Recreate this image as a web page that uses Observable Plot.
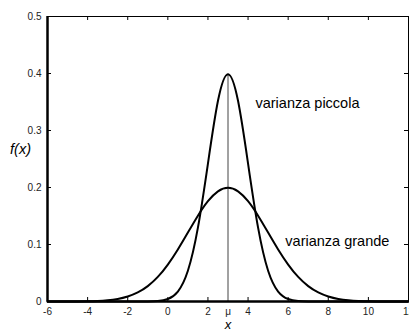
<!DOCTYPE html>
<html>
<head>
<meta charset="utf-8">
<script src="https://cdn.jsdelivr.net/npm/d3@7"></script>
<script src="https://cdn.jsdelivr.net/npm/@observablehq/plot@0.6"></script>
<style>
  html, body { margin: 0; padding: 0; background: #fff; }
  svg { display: block; }
</style>
</head>
<body>
<div id="chart"></div>
<script>
const xs = [-6,-5.5,-5,-4.5,-4,-3.5,-3,-2.5,-2,-1.5,-1,-0.5,0,0.5,1,1.5,2,2.5,3,3.5,4,4.5,5,5.5,6,6.5,7,7.5,8,8.5,9,9.5,10,10.5,11,11.5,12];
const piccola = [0,0,0,0,0,0,0,0,0,0,0.0001,0.0009,0.0044,0.0175,0.0540,0.1295,0.2420,0.3521,0.3989,0.3521,0.2420,0.1295,0.0540,0.0175,0.0044,0.0009,0.0001,0,0,0,0,0,0,0,0,0,0];
const grande = [0,0,0.0001,0.0002,0.0004,0.0010,0.0022,0.0045,0.0088,0.0159,0.0270,0.0431,0.0648,0.0913,0.1210,0.1506,0.1760,0.1933,0.1995,0.1933,0.1760,0.1506,0.1210,0.0913,0.0648,0.0431,0.0270,0.0159,0.0088,0.0045,0.0022,0.0010,0.0004,0.0002,0.0001,0,0];
const xTicks = [-6,-4,-2,0,2,3,4,6,8,10,12];
const xTickLabels = ["-6","-4","-2","0","2","μ","4","6","8","10","12"];
const yTicks = [0,0.1,0.2,0.3,0.4,0.5];
const yTickLabels = ["0","0.1","0.2","0.3","0.4","0.5"];
const mu = 3;
const peak = 0.3989;
const curveLabels = ["varianza piccola","varianza grande"];
const curveLabelX = [4.37, 5.86];
const curveLabelY = [0.347, 0.105];

const narrowData = xs.map((x,i) => ({x, y: piccola[i]}));
const wideData = xs.map((x,i) => ({x, y: grande[i]}));
const labelData = curveLabels.map((t,i) => ({t, x: curveLabelX[i], y: curveLabelY[i]}));
const xMajor = xTicks.filter(d => d !== mu);

const W = 409, H = 332, mL = 47, mR = 1, mT = 16, mB = 31;
const fw = W - mL - mR, fh = H - mT - mB;

const chart = Plot.plot({
  width: W, height: H,
  marginLeft: mL, marginRight: mR, marginTop: mT, marginBottom: mB,
  style: {fontFamily: "'Liberation Sans', Arial, sans-serif", background: "#fff"},
  x: {domain: [-6, 12]},
  y: {domain: [0, 0.5]},
  marks: [
    Plot.frame({stroke: "#000", strokeWidth: 1}),
    Plot.axisX(xTicks, {tickSize: 0, tickPadding: 6, fontSize: 10, fill: "#222",
      tickFormat: d => xTickLabels[xTicks.indexOf(d)], label: null}),
    Plot.axisY(yTicks, {tickSize: 0, tickPadding: 6, fontSize: 10, fill: "#222",
      tickFormat: d => yTickLabels[yTicks.indexOf(d)], label: null}),
    // inward ticks
    Plot.tickX(xMajor, {x: d => d, insetTop: fh - 4, stroke: "#000"}),
    Plot.tickX(xMajor, {x: d => d, insetBottom: fh - 4, stroke: "#000"}),
    Plot.tickY(yTicks, {y: d => d, insetRight: fw - 4, stroke: "#000"}),
    Plot.tickY(yTicks, {y: d => d, insetLeft: fw - 4, stroke: "#000"}),
    Plot.ruleX([mu], {y1: 0, y2: peak, stroke: "#444", strokeWidth: 1}),
    Plot.line(wideData, {x: "x", y: "y", curve: "natural", stroke: "#000", strokeWidth: 2}),
    Plot.line(narrowData, {x: "x", y: "y", curve: "natural", stroke: "#000", strokeWidth: 2}),
    Plot.ruleX([-6], {stroke: "#000", strokeWidth: 2.5}),
    Plot.ruleY([0], {stroke: "#000", strokeWidth: 2.5}),
    Plot.text(labelData, {x: "x", y: "y", text: "t", textAnchor: "start", fontSize: 14.5, fill: "#000"}),
    Plot.text(["f(x)"], {frameAnchor: "left", dx: -27, dy: -10, textAnchor: "middle", fontSize: 14.5, fontStyle: "italic", fill: "#000"}),
    Plot.text(["x"], {x: () => mu, frameAnchor: "bottom", dy: 27, fontSize: 13, fontStyle: "italic", fill: "#000"})
  ]
});
document.getElementById("chart").appendChild(chart);
</script>
</body>
</html>
